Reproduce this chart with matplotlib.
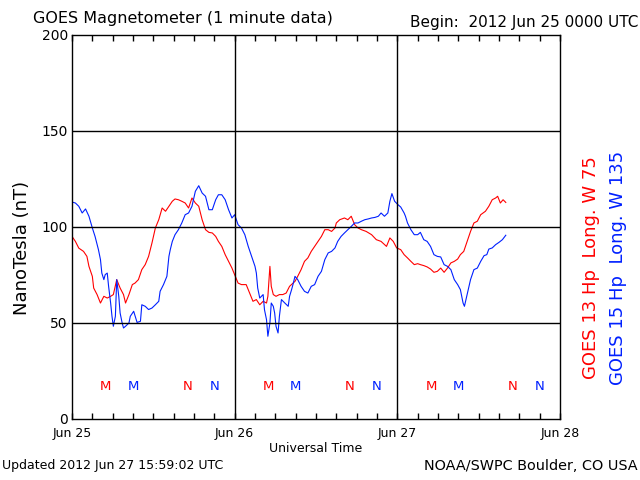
import matplotlib
matplotlib.use("Agg")
import matplotlib.pyplot as plt
import numpy as np

# hours since 2012 Jun 25 0000 UTC, nanotesla
g13_hours = [0, 0.5, 1, 1.7, 2.2, 2.5, 3, 3.2, 3.7, 4.2, 4.7, 5.2, 5.7, 6.1, 6.6, 7.1, 7.6, 7.9,
             8.4, 8.9, 9.3, 9.8, 10.3, 10.8, 11.3, 11.8, 12.3, 12.8, 13.3, 13.8, 14.3, 14.8, 15.2,
             15.7, 16.2, 16.7, 17.2, 17.7, 18.2, 18.7, 19.2, 19.7, 20.2, 20.7, 21.2, 21.6, 22.1,
             22.6, 23.1, 23.6, 24.1, 24.5, 25, 25.7, 26.2, 26.7, 27.2, 27.7, 28.2, 28.7, 28.9,
             29.2, 29.4, 29.7, 30.1, 30.6, 31.1, 31.6, 32.1, 32.9, 33.3, 33.8, 34.3, 34.8, 35.3,
             35.8, 36.3, 36.8, 37.3, 37.8, 38.3, 38.8, 39, 39.5, 40.2, 40.7, 41.2, 41.7, 42.2,
             42.7, 43.4, 44.2, 44.9, 45.6, 46.4, 46.9, 47.4, 47.9, 48.5, 49, 49.5, 50, 50.5, 51,
             51.4, 51.9, 52.4, 52.9, 53.4, 53.9, 54.4, 54.9, 55.4, 55.9, 56.4, 56.9, 57.3, 57.8,
             58.3, 58.8, 59.3, 59.8, 60.3, 61, 61.5, 62, 62.5, 62.8, 63.2, 63.6, 64]
g13_nt = [95.1, 92.5, 89, 87.3, 84.7, 79.5, 74.3, 68.2, 64.8, 60.4, 63.9, 63, 63.9, 64.8, 72.6, 68.2,
          64.8, 60.4, 64.8, 70, 70.8, 72.6, 77.8, 80.4, 84.7, 91.7, 99.5, 103.8, 109.9, 108.2,
          110.8, 113.4, 114.6, 114.2, 113.4, 112.5, 109.9, 115.1, 112.5, 110.8, 103.8, 98.6, 97.2,
          96.9, 95.1, 92.5, 89.9, 85.6, 82.1, 78.6, 74.3, 70.8, 70, 70, 65.6, 61.3, 62.2, 59.5,
          61.3, 60.4, 63.9, 79.5, 69.1, 64.8, 63.9, 64.8, 64.8, 65.6, 69.1, 71.7, 74.3, 77.8, 82.1,
          83.9, 87.3, 89.9, 92.5, 95.1, 98.6, 98.6, 97.7, 99.5, 102.1, 103.8, 104.7, 103.8, 105.6,
          101.2, 99.5, 98.6, 97.7, 96, 93.4, 92.5, 89.9, 94.3, 92.5, 89.1, 88.2, 85.6, 83.9, 82.1,
          80.4, 80.9, 80.4, 79.9, 79.2, 78.1, 76.4, 76.9, 78.6, 76.4, 78.6, 81.3, 82.1, 83.3, 85.6,
          87.3, 92.5, 97.7, 102.1, 103, 106.4, 108.2, 110.8, 114.2, 115.1, 116, 112.5, 114.2, 112.8]

g15_hours = [0, 0.5, 1, 1.5, 2, 2.5, 3, 3.4, 3.9, 4.2, 4.4, 4.7, 4.9, 5.2, 5.4, 5.7, 5.9, 6.1, 6.4,
             6.6, 6.9, 7.1, 7.4, 7.6, 7.9, 8.4, 8.6, 9.1, 9.6, 10.1, 10.3, 10.8, 11.3, 11.8, 12.3,
             12.8, 13, 13.5, 14, 14.3, 14.5, 14.8, 15.2, 15.7, 16.2, 16.7, 17.2, 17.7, 18.2, 18.7,
             19.2, 19.7, 20.2, 20.7, 21.2, 21.6, 22.1, 22.6, 23.1, 23.6, 24, 24.5, 25, 25.5, 26,
             26.5, 27, 27.2, 27.4, 27.7, 28.2, 28.4, 28.7, 28.9, 29.2, 29.4, 29.7, 29.9, 30.1, 30.4,
             30.6, 30.9, 31.4, 31.9, 32.1, 32.4, 32.6, 32.9, 33.3, 33.8, 34.3, 34.8, 35.3, 35.8,
             36.3, 36.8, 37.3, 37.8, 38.3, 38.8, 39.2, 39.7, 40.2, 40.7, 41.2, 41.7, 42.2, 42.7,
             43.2, 43.7, 44.2, 44.7, 45.2, 45.6, 46.1, 46.6, 46.9, 47.2, 47.6, 48.1, 48.5, 49, 49.2,
             49.5, 50, 50.5, 51, 51.4, 51.9, 52.4, 52.9, 53.4, 53.9, 54.4, 54.9, 55.4, 55.9, 56.4,
             56.9, 57.3, 57.7, 57.9, 58.3, 58.8, 59.3, 59.8, 60.3, 60.8, 61.2, 61.5, 62, 62.5, 63,
             63.5, 64]
g15_nt = [113, 112.5, 110.8, 107.3, 109.4, 105.6, 99.5, 95.1, 88.2, 83, 76, 72.6, 75.2, 76, 69.1,
          60.4, 53.5, 48.3, 53.5, 72.6, 63.9, 55.2, 50, 47.4, 48.3, 50, 53.5, 56.1, 50.3, 50.9,
          59.5, 58.7, 57, 57.8, 59.5, 61.3, 66.5, 70, 74.3, 84.7, 88.2, 92.5, 96, 98.6, 102.1,
          106.4, 107.3, 110.8, 118.6, 121.5, 117.7, 116, 109, 109, 114.2, 116.8, 116.8, 114.2,
          109, 104.7, 106.4, 101.2, 99.5, 96, 89.9, 84.7, 79.5, 76, 68.2, 63, 64.8, 56.9, 51.7,
          43.1, 50, 60.4, 58.7, 55.2, 48.3, 44.8, 53.5, 62.2, 60.4, 58.7, 63.9, 67.4, 70, 74.3,
          72.6, 69.1, 66.5, 65.6, 69.1, 70, 74.3, 76.9, 83, 86.5, 87.3, 89.1, 92.5, 95.1, 96.9,
          98.6, 100.3, 102.1, 102.1, 103, 103.8, 104.2, 104.7, 105, 105.6, 107.3, 105.6, 107.3,
          113.4, 117.4, 113.4, 111.6, 110.4, 107.3, 105.6, 102.1, 98.6, 96, 96, 97.2, 93.4, 92.5,
          89.9, 85.6, 84.7, 84.4, 80.4, 79.5, 77.8, 72.6, 70, 67.4, 60.4, 58.7, 64.8, 72.6, 77.8,
          78.6, 82.1, 85.1, 85.6, 88.5, 89.1, 90.8, 92, 93.4, 95.7]

# local midnight (M) and noon (N) marks, hours UT
g13_midnight = [5, 29, 53]
g13_noon = [17, 41, 65]
g15_midnight = [9, 33, 57]
g15_noon = [21, 45, 69]

day_labels = ["Jun 25", "Jun 26", "Jun 27", "Jun 28"]

fig = plt.figure(figsize=(6.4, 4.8), dpi=100)
fig.patch.set_facecolor("white")
ax = fig.add_axes([72 / 640, 1 - 419 / 480, 488 / 640, 384 / 480])

ax.plot(g13_hours, g13_nt, color="#ff0000", linewidth=0.8)
ax.plot(g15_hours, g15_nt, color="#0020ff", linewidth=0.8)

for h in g13_midnight:
    ax.text(h, 17, "M", color="#ff0000", ha="center", va="center", fontsize=9.5)
for h in g13_noon:
    ax.text(h, 17, "N", color="#ff0000", ha="center", va="center", fontsize=9.5)
for h in g15_midnight:
    ax.text(h, 17, "M", color="#0020ff", ha="center", va="center", fontsize=9.5)
for h in g15_noon:
    ax.text(h, 17, "N", color="#0020ff", ha="center", va="center", fontsize=9.5)

ax.set_xlim(0, 72)
ax.set_ylim(0, 200)
for yv in [50, 100, 150]:
    ax.axhline(yv, color="black", linewidth=1)
for xv in [24, 48]:
    ax.axvline(xv, color="black", linewidth=1)

ax.set_xticks([0, 24, 48, 72])
ax.set_xticklabels(day_labels, fontsize=9)
ax.set_xticks(np.arange(0, 73, 3), minor=True)
ax.tick_params(axis="x", which="both", direction="in", top=True, length=4, width=1, pad=6)
ax.set_yticks([0, 50, 100, 150, 200])
ax.set_yticklabels(["0", "50", "100", "150", "200"], fontsize=10)
ax.tick_params(axis="y", length=0, pad=3)
for s in ax.spines.values():
    s.set_linewidth(1)

ax.set_xlabel("Universal Time", fontsize=9, labelpad=1)
fig.text(22 / 640, 1 - 248 / 480, "NanoTesla (nT)", fontsize=13, rotation=90,
         ha="center", va="center")

fig.text(33 / 640, 1 - 18 / 480, "GOES Magnetometer (1 minute data)", fontsize=11.5, va="center")
fig.text(638 / 640, 1 - 22 / 480, "Begin:  2012 Jun 25 0000 UTC", fontsize=11, va="center", ha="right")
fig.text(2 / 640, 1 - 466 / 480, "Updated 2012 Jun 27 15:59:02 UTC", fontsize=9, va="center")
fig.text(638 / 640, 1 - 466 / 480, "NOAA/SWPC Boulder, CO USA", fontsize=10.4, va="center", ha="right")
fig.text(591 / 640, 1 - 268 / 480, "GOES 13 Hp  Long. W 75", color="#ff0000", fontsize=13,
         rotation=90, ha="center", va="center")
fig.text(618 / 640, 1 - 268 / 480, "GOES 15 Hp  Long. W 135", color="#0020ff", fontsize=13,
         rotation=90, ha="center", va="center")

plt.savefig("out.png", dpi=100, facecolor="white")
